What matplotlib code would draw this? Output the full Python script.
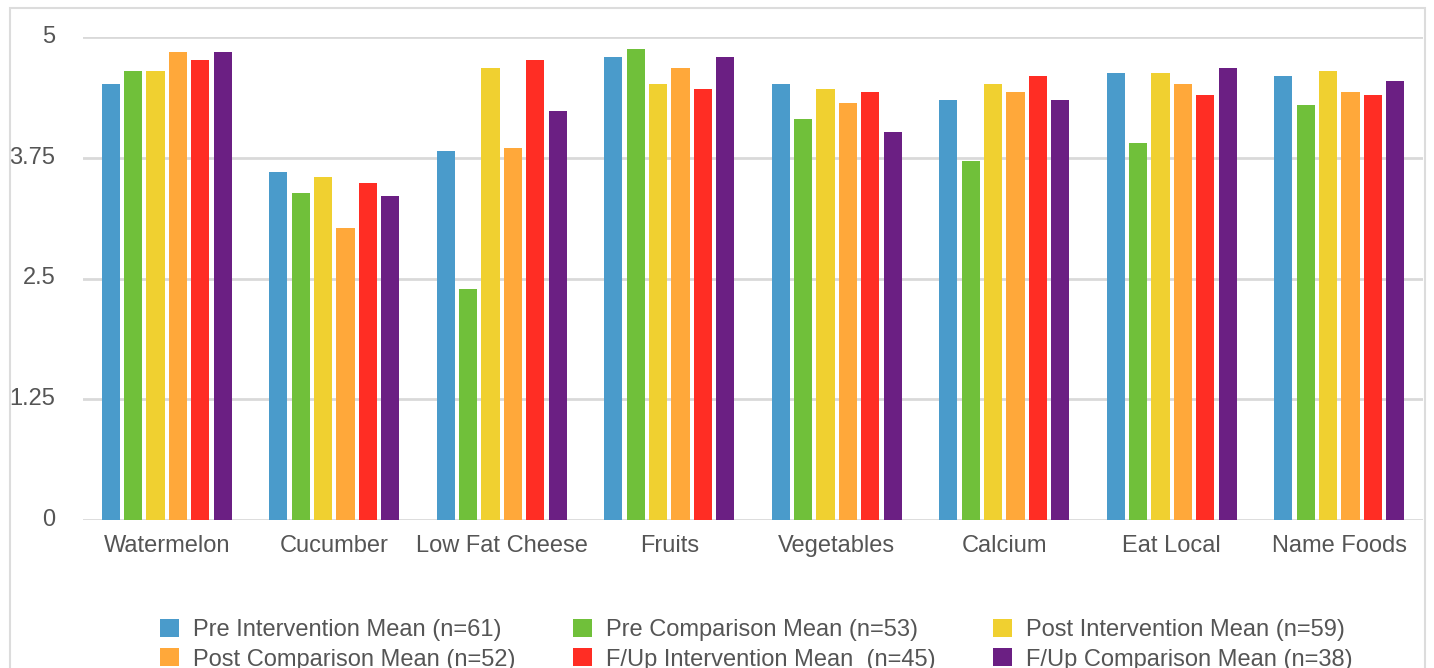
import numpy as np
import matplotlib
matplotlib.use("Agg")
import matplotlib.pyplot as plt
from matplotlib.patches import Rectangle

categories = ["Watermelon", "Cucumber", "Low Fat Cheese", "Fruits",
              "Vegetables", "Calcium", "Eat Local", "Name Foods"]

series_names = ["Pre Intervention Mean (n=61)", "Pre Comparison Mean (n=53)",
                "Post Intervention Mean (n=59)", "Post Comparison Mean (n=52)",
                "F/Up Intervention Mean  (n=45)", "F/Up Comparison Mean (n=38)"]

pre_intervention = [4.51, 3.60, 3.82, 4.79, 4.51, 4.35, 4.63, 4.60]
pre_comparison = [4.65, 3.39, 2.39, 4.88, 4.15, 3.72, 3.90, 4.30]
post_intervention = [4.65, 3.55, 4.68, 4.51, 4.46, 4.51, 4.63, 4.65]
post_comparison = [4.84, 3.02, 3.85, 4.68, 4.32, 4.43, 4.51, 4.43]
fup_intervention = [4.76, 3.49, 4.76, 4.46, 4.43, 4.60, 4.40, 4.40]
fup_comparison = [4.84, 3.35, 4.23, 4.79, 4.02, 4.35, 4.68, 4.54]

yticks = [0, 1.25, 2.5, 3.75, 5]
ytick_labels = ["0", "1.25", "2.5", "3.75", "5"]

colors = ["#4A9BCB", "#70C03A", "#F0D030", "#FFA83A", "#FF2D24", "#6B1F83"]

plt.rcParams["font.family"] = ["Liberation Sans", "DejaVu Sans"]
TEXT = "#555555"
GRID = "#d9d9d9"
FS = 17

fig = plt.figure(figsize=(14.34, 6.68), dpi=100)
W, H = 1434, 668
ax = fig.add_axes([83 / W, (H - 520) / H, (1423 - 83) / W, (520 - 37) / H])

# light frame around the whole chart
fig.patches.append(Rectangle((10 / W, -0.05), (1425 - 10) / W, (H - 8) / H + 0.05,
                             transform=fig.transFigure, fill=False,
                             edgecolor="#dcdcdc", linewidth=1.5))

all_series = [pre_intervention, pre_comparison, post_intervention,
              post_comparison, fup_intervention, fup_comparison]
x = np.arange(len(categories))
slot = 0.134
width = 0.108
for i, (vals, name, c) in enumerate(zip(all_series, series_names, colors)):
    ax.bar(x + (i - 2.5) * slot, vals, width, color=c, label=name, zorder=3)

ax.set_xlim(-0.5, len(categories) - 0.5)
ax.set_ylim(0, 5)
ax.set_yticks(yticks)
ax.set_yticklabels(ytick_labels)
ax.set_xticks(x)
ax.set_xticklabels(categories)
ax.tick_params(axis="both", length=0, labelsize=FS, colors=TEXT)
ax.tick_params(axis="y", pad=20)
ax.tick_params(axis="x", pad=11)
for lab in ax.get_yticklabels():
    lab.set_verticalalignment("center")

ax.yaxis.grid(True, color=GRID, linewidth=2, zorder=0)
ax.set_axisbelow(True)
for s in ax.spines.values():
    s.set_visible(False)

# legend reads row by row, so reorder for matplotlib's column filling
handles, labels = ax.get_legend_handles_labels()
order = [0, 3, 1, 4, 2, 5]
leg = fig.legend([handles[k] for k in order], [labels[k] for k in order],
                 ncol=3, loc="upper left",
                 bbox_to_anchor=(139 / W, (H - 598) / H),
                 frameon=False, fontsize=FS, handlelength=0.78, handleheight=0.78,
                 handletextpad=0.6, columnspacing=2.45, labelspacing=0.3,
                 labelcolor=TEXT)

fig.savefig("out.png", dpi=100)
